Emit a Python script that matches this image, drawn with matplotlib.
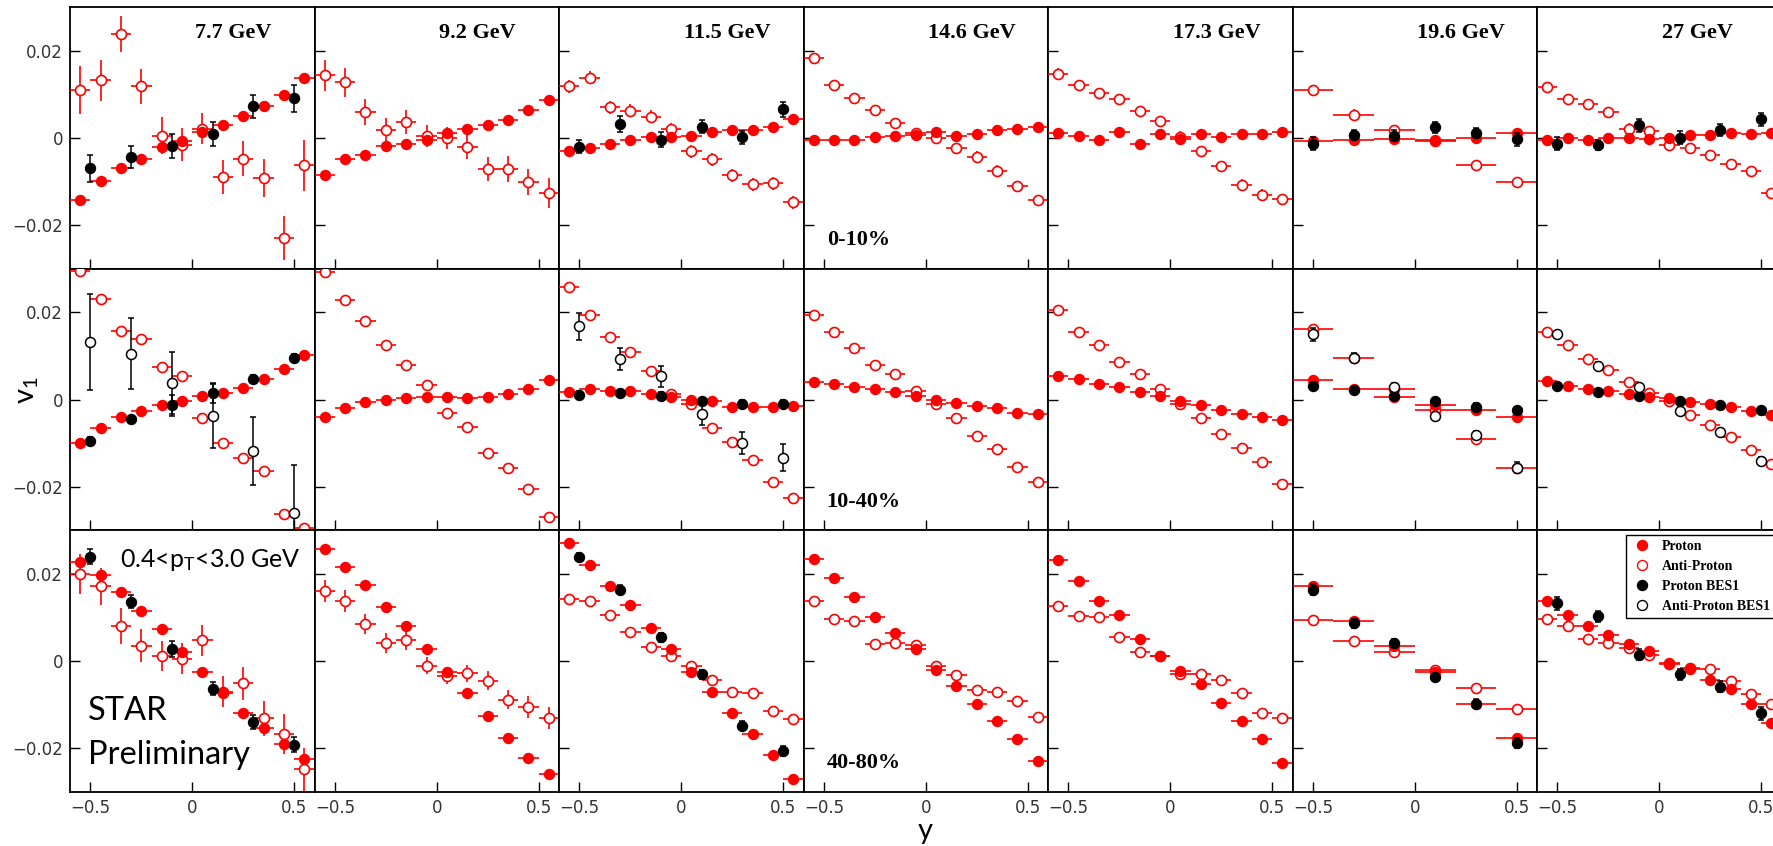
import matplotlib
matplotlib.use('Agg')
import matplotlib.pyplot as plt
from matplotlib.lines import Line2D

plt.rcParams['mathtext.fontset'] = 'custom'
plt.rcParams['mathtext.rm'] = 'Lato'
plt.rcParams['mathtext.it'] = 'Lato'

W, H = 1773, 846

# ---------------- data ----------------
energies = ['7.7 GeV', '9.2 GeV', '11.5 GeV', '14.6 GeV', '17.3 GeV', '19.6 GeV', '27 GeV']
centralities = ['0-10%', '10-40%', '40-80%']
y_fine = [-0.55, -0.45, -0.35, -0.25, -0.15, -0.05, 0.05, 0.15, 0.25, 0.35, 0.45, 0.55]
y_coarse = [-0.5, -0.3, -0.1, 0.1, 0.3, 0.5]

# 7.7 GeV
p_7p7 = [[-0.0143, -0.0098, -0.0069, -0.0049, -0.0021, -0.0008, 0.0014, 0.0029, 0.0049, 0.0074, 0.0099, 0.0138],
         [-0.0100, -0.0066, -0.0040, -0.0026, -0.0013, -0.0004, 0.0008, 0.0016, 0.0026, 0.0048, 0.0069, 0.0103],
         [0.0227, 0.0198, 0.0158, 0.0116, 0.0073, 0.0022, -0.0025, -0.0073, -0.0119, -0.0154, -0.0189, -0.0225]]
ap_7p7 = [[0.0109, 0.0132, 0.0238, 0.0118, 0.0005, -0.0016, 0.0021, -0.0089, -0.0048, -0.0092, -0.0229, -0.0063],
          [0.0294, 0.0231, 0.0158, 0.0138, 0.0075, 0.0055, -0.0043, -0.0100, -0.0133, -0.0163, -0.0263, -0.0295],
          [0.0200, 0.0172, 0.0081, 0.0036, 0.0012, 0.0006, 0.0048, -0.0070, -0.0051, -0.0131, -0.0167, -0.0248]]
ap_err_7p7 = [[0.0055, 0.0047, 0.0042, 0.0040, 0.0042, 0.0038, 0.0036, 0.0039, 0.0040, 0.0044, 0.0050, 0.0058],
              [0.0010, 0.0010, 0.0010, 0.0010, 0.0010, 0.0010, 0.0010, 0.0010, 0.0010, 0.0010, 0.0010, 0.0010],
              [0.0045, 0.0042, 0.0041, 0.0038, 0.0035, 0.0035, 0.0036, 0.0036, 0.0038, 0.0040, 0.0045, 0.0050]]
bp_7p7 = [[-0.0070, -0.0044, -0.0019, 0.0009, 0.0072, 0.0091],
          [-0.0095, -0.0045, -0.0013, 0.0015, 0.0048, 0.0096],
          [0.0240, 0.0136, 0.0028, -0.0063, -0.0139, -0.0191]]
bp_err_7p7 = [[0.0031, 0.0026, 0.0028, 0.0027, 0.0027, 0.0031],
              [0.0008, 0.0008, 0.0024, 0.0022, 0.0008, 0.0008],
              [0.0018, 0.0015, 0.0018, 0.0015, 0.0016, 0.0018]]
bap_7p7 = [[], [0.0131, 0.0105, 0.0038, -0.0038, -0.0119, -0.0260], []]
bap_err_7p7 = [[], [0.0110, 0.0081, 0.0072, 0.0073, 0.0078, 0.0110], []]

# 9.2 GeV
p_9p2 = [[-0.0086, -0.0048, -0.0039, -0.0018, -0.0013, -0.0005, 0.0011, 0.0020, 0.0029, 0.0042, 0.0063, 0.0087],
         [-0.0039, -0.0019, -0.0006, -0.0001, 0.0003, 0.0006, 0.0006, 0.0003, 0.0006, 0.0013, 0.0024, 0.0045],
         [0.0257, 0.0217, 0.0175, 0.0124, 0.0081, 0.0027, -0.0025, -0.0073, -0.0125, -0.0176, -0.0222, -0.0258]]
ap_9p2 = [[0.0143, 0.0127, 0.0059, 0.0018, 0.0036, 0.0005, 0.0000, -0.0021, -0.0072, -0.0072, -0.0102, -0.0126],
          [0.0293, 0.0229, 0.0181, 0.0124, 0.0079, 0.0034, -0.0030, -0.0063, -0.0123, -0.0158, -0.0206, -0.0270],
          [0.0161, 0.0139, 0.0085, 0.0042, 0.0048, -0.0010, -0.0033, -0.0028, -0.0045, -0.0088, -0.0105, -0.0130]]
ap_err_9p2 = [[0.0035, 0.0033, 0.0030, 0.0028, 0.0028, 0.0025, 0.0025, 0.0028, 0.0028, 0.0030, 0.0030, 0.0035],
              [0.0008, 0.0008, 0.0008, 0.0008, 0.0008, 0.0008, 0.0008, 0.0008, 0.0008, 0.0008, 0.0008, 0.0008],
              [0.0025, 0.0025, 0.0023, 0.0022, 0.0022, 0.0020, 0.0020, 0.0020, 0.0022, 0.0022, 0.0025, 0.0025]]

# 11.5 GeV
p_11p5 = [[-0.0031, -0.0024, -0.0015, -0.0006, 0.0001, 0.0001, 0.0004, 0.0014, 0.0019, 0.0018, 0.0026, 0.0044],
          [0.0018, 0.0024, 0.0020, 0.0020, 0.0013, 0.0006, 0.0000, -0.0004, -0.0016, -0.0018, -0.0018, -0.0015],
          [0.0270, 0.0221, 0.0172, 0.0130, 0.0076, 0.0028, -0.0024, -0.0070, -0.0119, -0.0167, -0.0216, -0.0269]]
ap_11p5 = [[0.0118, 0.0138, 0.0070, 0.0062, 0.0048, 0.0020, -0.0031, -0.0049, -0.0086, -0.0106, -0.0104, -0.0148],
           [0.0259, 0.0193, 0.0144, 0.0109, 0.0066, 0.0013, -0.0011, -0.0066, -0.0098, -0.0139, -0.0189, -0.0226],
           [0.0143, 0.0139, 0.0105, 0.0067, 0.0033, 0.0012, -0.0012, -0.0042, -0.0070, -0.0073, -0.0115, -0.0133]]
ap_err_11p5 = [[0.0015] * 12, [0.0008] * 12, [0.0008] * 12]
bp_11p5 = [[-0.0020, 0.0031, -0.0004, 0.0025, 0.0001, 0.0065],
           [0.0011, 0.0015, 0.0009, -0.0004, -0.0010, -0.0010],
           [0.0239, 0.0164, 0.0055, -0.0030, -0.0148, -0.0206]]
bp_err_11p5 = [[0.0015, 0.0018, 0.0017, 0.0015, 0.0015, 0.0018],
               [0.0008, 0.0008, 0.0008, 0.0008, 0.0008, 0.0008],
               [0.0010, 0.0010, 0.0010, 0.0010, 0.0010, 0.0012]]
bap_11p5 = [[], [0.0168, 0.0093, 0.0053, -0.0033, -0.0100, -0.0133], []]
bap_err_11p5 = [[], [0.0031, 0.0026, 0.0025, 0.0025, 0.0025, 0.0031], []]

# 14.6 GeV
p_14p6 = [[-0.0005, -0.0005, -0.0005, 0.0003, 0.0005, 0.0006, 0.0014, 0.0005, 0.0009, 0.0018, 0.0021, 0.0026],
          [0.0041, 0.0035, 0.0029, 0.0024, 0.0018, 0.0009, -0.0001, -0.0009, -0.0015, -0.0020, -0.0030, -0.0033],
          [0.0234, 0.0190, 0.0148, 0.0101, 0.0064, 0.0027, -0.0019, -0.0056, -0.0099, -0.0137, -0.0179, -0.0228]]
ap_14p6 = [[0.0182, 0.0121, 0.0091, 0.0064, 0.0034, 0.0010, -0.0001, -0.0023, -0.0043, -0.0075, -0.0111, -0.0143],
           [0.0194, 0.0156, 0.0118, 0.0080, 0.0059, 0.0020, -0.0010, -0.0043, -0.0084, -0.0113, -0.0155, -0.0190],
           [0.0139, 0.0097, 0.0092, 0.0040, 0.0042, 0.0038, -0.0012, -0.0032, -0.0065, -0.0070, -0.0091, -0.0128]]

# 17.3 GeV
p_17p3 = [[0.0011, 0.0005, -0.0004, 0.0013, -0.0013, 0.0008, -0.0003, 0.0009, 0.0003, 0.0009, 0.0009, 0.0013],
          [0.0053, 0.0048, 0.0035, 0.0029, 0.0018, 0.0009, -0.0004, -0.0013, -0.0024, -0.0034, -0.0041, -0.0048],
          [0.0231, 0.0185, 0.0138, 0.0105, 0.0052, 0.0012, -0.0022, -0.0052, -0.0095, -0.0137, -0.0178, -0.0234]]
ap_17p3 = [[0.0147, 0.0121, 0.0103, 0.0088, 0.0062, 0.0038, 0.0003, -0.0030, -0.0064, -0.0107, -0.0130, -0.0140],
           [0.0205, 0.0156, 0.0126, 0.0085, 0.0058, 0.0024, -0.0010, -0.0043, -0.0080, -0.0110, -0.0143, -0.0193],
           [0.0126, 0.0104, 0.0101, 0.0055, 0.0021, 0.0012, -0.0030, -0.0030, -0.0044, -0.0073, -0.0118, -0.0131]]

# 19.6 GeV (wide rapidity bins)
p_19p6 = [[-0.0008, -0.0005, -0.0003, -0.0004, -0.0001, 0.0011],
          [0.0044, 0.0024, 0.0006, -0.0013, -0.0025, -0.0041],
          [0.0172, 0.0093, 0.0036, -0.0024, -0.0099, -0.0176]]
ap_19p6 = [[0.0109, 0.0053, 0.0018, -0.0008, -0.0063, -0.0101],
           [0.0161, 0.0095, 0.0025, -0.0023, -0.0091, -0.0156],
           [0.0095, 0.0046, 0.0021, -0.0021, -0.0061, -0.0109]]
bp_19p6 = [[-0.0013, 0.0006, 0.0005, 0.0024, 0.0011, -0.0003],
           [0.0030, 0.0021, 0.0009, -0.0004, -0.0016, -0.0025],
           [0.0164, 0.0087, 0.0042, -0.0036, -0.0097, -0.0188]]
bp_err_19p6 = [[0.0015, 0.0012, 0.0012, 0.0012, 0.0012, 0.0015],
               [0.0007, 0.0007, 0.0007, 0.0007, 0.0007, 0.0007],
               [0.0012, 0.0010, 0.0010, 0.0010, 0.0010, 0.0012]]
bap_19p6 = [[], [0.0150, 0.0096, 0.0028, -0.0038, -0.0081, -0.0156], []]
bap_err_19p6 = [[], [0.0015, 0.0010, 0.0010, 0.0010, 0.0010, 0.0013], []]

# 27 GeV
p_27 = [[-0.0006, -0.0001, -0.0004, 0.0000, 0.0000, -0.0003, 0.0000, 0.0006, 0.0006, 0.0011, 0.0009, 0.0011],
        [0.0043, 0.0031, 0.0025, 0.0020, 0.0013, 0.0006, 0.0003, -0.0006, -0.0011, -0.0018, -0.0026, -0.0035],
        [0.0137, 0.0105, 0.0081, 0.0061, 0.0040, 0.0024, -0.0004, -0.0018, -0.0042, -0.0063, -0.0097, -0.0142]]
ap_27 = [[0.0116, 0.0088, 0.0078, 0.0059, 0.0021, 0.0015, -0.0016, -0.0023, -0.0039, -0.0060, -0.0077, -0.0126],
         [0.0154, 0.0125, 0.0094, 0.0068, 0.0040, 0.0015, -0.0004, -0.0035, -0.0059, -0.0085, -0.0116, -0.0148],
         [0.0097, 0.0081, 0.0051, 0.0042, 0.0030, 0.0015, -0.0006, -0.0015, -0.0018, -0.0045, -0.0076, -0.0099]]
bp_27 = [[-0.0014, -0.0016, 0.0029, 0.0000, 0.0018, 0.0043],
         [0.0031, 0.0018, 0.0009, -0.0004, -0.0013, -0.0023],
         [0.0133, 0.0103, 0.0015, -0.0030, -0.0058, -0.0119]]
bp_err_27 = [[0.0015, 0.0012, 0.0015, 0.0015, 0.0013, 0.0015],
             [0.0007, 0.0007, 0.0007, 0.0007, 0.0007, 0.0007],
             [0.0015, 0.0012, 0.0012, 0.0012, 0.0012, 0.0015]]
bap_27 = [[], [0.0150, 0.0078, 0.0028, -0.0026, -0.0075, -0.0141], []]
bap_err_27 = [[], [0.0008, 0.0008, 0.0008, 0.0008, 0.0008, 0.0009], []]

proton_err = 0.0005
anti_err_default = [0.0012, 0.0008, 0.0008]

# table built from the named arrays (column by column)
columns = [
    dict(x=y_fine, xe=0.05, p=p_7p7, ap=ap_7p7, ape=ap_err_7p7, bp=bp_7p7, bpe=bp_err_7p7, bap=bap_7p7, bape=bap_err_7p7),
    dict(x=y_fine, xe=0.05, p=p_9p2, ap=ap_9p2, ape=ap_err_9p2),
    dict(x=y_fine, xe=0.05, p=p_11p5, ap=ap_11p5, ape=ap_err_11p5, bp=bp_11p5, bpe=bp_err_11p5, bap=bap_11p5, bape=bap_err_11p5),
    dict(x=y_fine, xe=0.05, p=p_14p6, ap=ap_14p6),
    dict(x=y_fine, xe=0.05, p=p_17p3, ap=ap_17p3),
    dict(x=y_coarse, xe=0.1, p=p_19p6, ap=ap_19p6, bp=bp_19p6, bpe=bp_err_19p6, bap=bap_19p6, bape=bap_err_19p6),
    dict(x=y_fine, xe=0.05, p=p_27, ap=ap_27, bp=bp_27, bpe=bp_err_27, bap=bap_27, bape=bap_err_27),
]

# ---------------- figure ----------------
fig = plt.figure(figsize=(W / 100, H / 100), dpi=100)

left0, colw = 70, 244.5
top0, rowh = 7, 261.7
serif_bold = dict(family='Liberation Serif', weight='bold')
RED = '#ff0000'

ms = 7.2
for c in range(7):
    col = columns[c]
    for r in range(3):
        ax = fig.add_axes([(left0 + c * colw) / W, 1 - (top0 + (r + 1) * rowh) / H,
                           colw / W, rowh / H])
        ax.set_xlim(-0.6, 0.6)
        ax.set_ylim(-0.03, 0.03)
        x = col['x']
        xe = col['xe']
        ape = col['ape'][r] if 'ape' in col else anti_err_default[r]
        # anti-proton (open red)
        ax.errorbar(x, col['ap'][r], xerr=xe, yerr=ape, fmt='o', ms=ms,
                    mfc='white', mec=RED, mew=1.2, ecolor=RED, elinewidth=1.2,
                    capsize=0, zorder=3)
        # proton (filled red)
        ax.errorbar(x, col['p'][r], xerr=xe, yerr=proton_err, fmt='o', ms=ms,
                    mfc=RED, mec=RED, mew=1.0, ecolor=RED, elinewidth=1.2,
                    capsize=0, zorder=4)
        if 'bp' in col and col['bp'][r]:
            ax.errorbar(y_coarse, col['bp'][r], yerr=col['bpe'][r], fmt='o', ms=ms,
                        mfc='black', mec='black', ecolor='black', elinewidth=1.1,
                        capsize=2.5, capthick=1.1, zorder=5)
        if 'bap' in col and col['bap'][r]:
            ax.errorbar(y_coarse, col['bap'][r], yerr=col['bape'][r], fmt='o', ms=ms,
                        mfc='white', mec='black', mew=1.1, ecolor='black', elinewidth=1.1,
                        capsize=2.5, capthick=1.1, zorder=6)

        ax.set_xticks([-0.5, 0, 0.5])
        ax.set_yticks([-0.02, 0, 0.02])
        ax.tick_params(direction='in', length=7, width=1.0, top=False, right=False,
                       labelsize=12, labelcolor='#333333', pad=5)
        for s in ax.spines.values():
            s.set_linewidth(1.3)
        if c == 0:
            ax.set_yticklabels(['\u22120.02', '0', '0.02'])
        else:
            ax.set_yticklabels([])
        if r == 2:
            ax.set_xticklabels(['\u22120.5', '0', '0.5'])
        else:
            ax.set_xticklabels([])

        if r == 0:
            ax.text(0.51, 0.90, energies[c], transform=ax.transAxes, ha='left',
                    va='center', fontsize=16, **serif_bold)
        if c == 3:
            ax.text(0.095, 0.11, centralities[r], transform=ax.transAxes, ha='left',
                    va='center', fontsize=16, **serif_bold)
        if c == 0 and r == 2:
            ax.text(0.205, 0.885, r'0.4<p$_\mathrm{T}$<3.0 GeV', transform=ax.transAxes,
                    ha='left', va='center', fontsize=18, family='Lato')
            ax.text(0.072, 0.31, 'STAR', transform=ax.transAxes, ha='left',
                    va='center', fontsize=23.5, family='Lato')
            ax.text(0.072, 0.14, 'Preliminary', transform=ax.transAxes, ha='left',
                    va='center', fontsize=23.5, family='Lato')
        if c == 6 and r == 2:
            handles = [
                Line2D([], [], ls='none', marker='o', ms=ms, mfc=RED, mec=RED),
                Line2D([], [], ls='none', marker='o', ms=ms, mfc='white', mec=RED),
                Line2D([], [], ls='none', marker='o', ms=ms, mfc='black', mec='black'),
                Line2D([], [], ls='none', marker='o', ms=ms, mfc='white', mec='black'),
            ]
            leg = ax.legend(handles, ['Proton', 'Anti-Proton', 'Proton BES1', 'Anti-Proton BES1'],
                            loc='upper left', bbox_to_anchor=(0.364, 0.982), frameon=True,
                            fancybox=False, edgecolor='black', framealpha=1,
                            prop=dict(family='Liberation Serif', weight='bold', size=10),
                            handlelength=1.6, handletextpad=0.64, borderpad=0.35,
                            labelspacing=0.5, borderaxespad=0)
            leg.get_frame().set_linewidth(1.0)
            leg.set_zorder(10)

fig.text(28 / W, 1 - 390 / H, r'v$_1$', rotation=90, ha='center', va='center',
         fontsize=21, family='Lato')
fig.text(925 / W, 1 - 831 / H, 'y', ha='center', va='center', fontsize=21, family='Lato')

fig.savefig('out.png', dpi=100)
